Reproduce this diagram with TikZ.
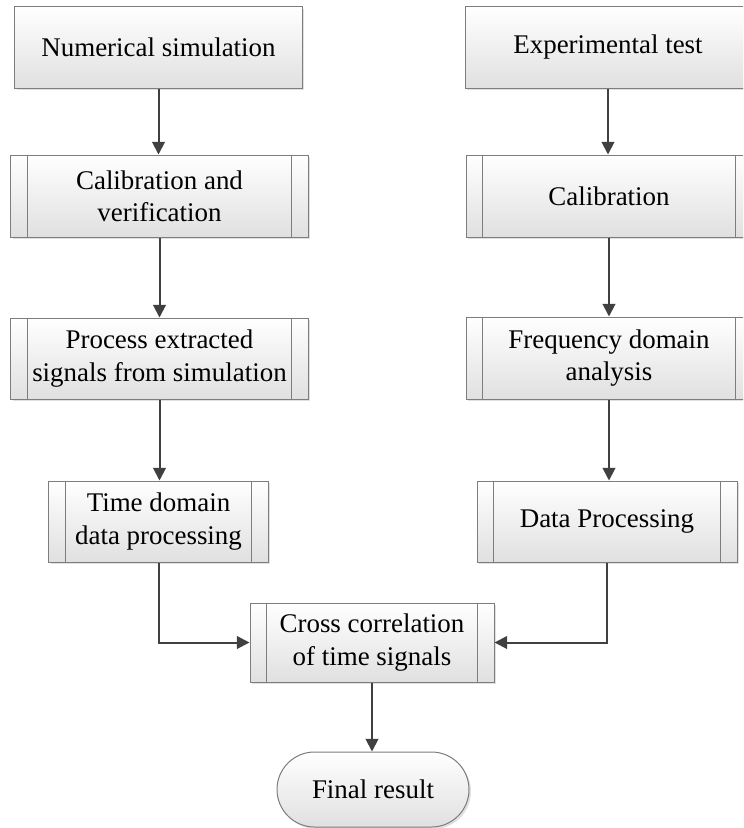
\documentclass[tikz,border=0pt]{standalone}
\usepackage{fontspec}
\setmainfont{Liberation Serif}
\usetikzlibrary{arrows.meta,shapes.misc,shadows}
\definecolor{boxedge}{RGB}{125,125,125}
\definecolor{boxfill}{RGB}{224,224,224}
\definecolor{flowline}{RGB}{64,64,64}

\begin{document}
\begin{tikzpicture}[x=0.3mm,y=-0.3mm]
    \tikzstyle{block}=[rectangle,draw=boxedge,line width=0.3mm,top color=white,bottom color=boxfill,
        drop shadow={shadow xshift=0.6mm,shadow yshift=-0.6mm,fill=black,opacity=0.12},
        inner sep=0pt,align=center,font=\fontsize{23}{27.5}\selectfont]
    \tikzstyle{subblock}=[block,path picture={
        \draw[boxedge,line width=0.3mm] ([xshift=5mm]path picture bounding box.north west) -- ([xshift=5mm]path picture bounding box.south west);
        \draw[boxedge,line width=0.3mm] ([xshift=-5mm]path picture bounding box.north east) -- ([xshift=-5mm]path picture bounding box.south east);}]
    \tikzstyle{terminal}=[block,rounded rectangle]
    \tikzstyle{flow}=[draw=flowline,line width=0.6mm,-{Triangle[length=3.8mm,width=3.8mm]}]

    \useasboundingbox (0,0) rectangle (743,828);
    \clip (0,0) rectangle (743,828);

    % simulation side
    \node[block,minimum width=86.1mm,minimum height=24.3mm] (numsim) at (158.5,47.5) {Numerical simulation};
    \node[subblock,minimum width=89.1mm,minimum height=24.6mm] (calver) at (159.5,196) {Calibration and\\verification};
    \node[subblock,minimum width=89.1mm,minimum height=24.3mm] (procsig) at (159.5,358.5) {Process extracted\\signals from simulation};
    \node[subblock,minimum width=65.7mm,minimum height=24.3mm] (timedom) at (158.5,521.5) {Time domain\\data processing};

    % experiment side
    \node[block,minimum width=85.8mm,minimum height=24.3mm] (exptest) at (608,47.5) {Experimental test};
    \node[subblock,minimum width=85.8mm,minimum height=24.6mm] (calib) at (609,196) {Calibration};
    \node[subblock,minimum width=85.8mm,minimum height=24.6mm] (freqdom) at (609,358) {Frequency domain\\analysis};
    \node[subblock,minimum width=78mm,minimum height=24.3mm] (dataproc) at (607,521.5) {Data Processing};

    % merge
    \node[subblock,minimum width=73.2mm,minimum height=23.7mm] (crosscor) at (372,642.5) {Cross correlation\\of time signals};
    \node[terminal,minimum width=57.6mm,minimum height=22.5mm] (final) at (373,789.5) {Final result};

    \foreach \from/\to in {numsim/calver,calver/procsig,procsig/timedom,exptest/calib,calib/freqdom,freqdom/dataproc,crosscor/final}
        \draw[flow] (\from.south) -- (\from.south |- \to.north);

    \draw[flow] (timedom.south) |- (crosscor.west);
    \draw[flow] (dataproc.south) |- (crosscor.east);
\end{tikzpicture}
\end{document}
